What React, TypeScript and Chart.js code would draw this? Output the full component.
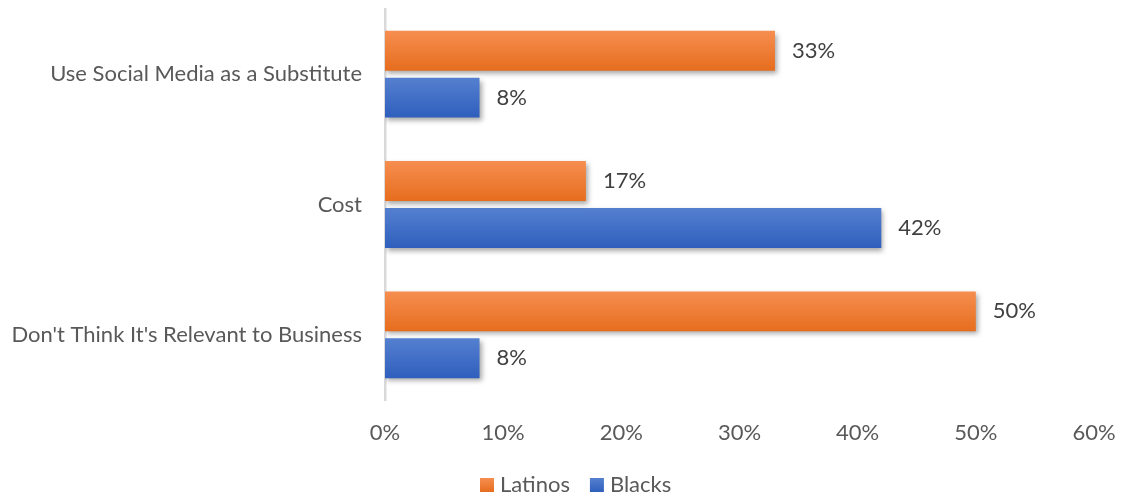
import { useEffect, useRef } from 'react';
import { Chart, registerables } from 'chart.js';

Chart.register(...registerables);

const categories = ['Use Social Media as a Substitute', 'Cost', "Don't Think It's Relevant to Business"];
const latinos = [33, 17, 50];
const blacks = [8, 42, 8];

const FONT = 'Lato, "Open Sans", sans-serif';
const SIZE = 22;

const gradients: Record<string, [string, string]> = {
  Latinos: ['#f68e50', '#e66d1e'],
  Blacks: ['#5580d0', '#2f5fbd'],
};

// Excel-style vertical gradient on each bar, soft drop shadow, value labels and legend
const barLook = {
  id: 'barLook',
  beforeDatasetDraw(chart: any, args: any) {
    const { ctx } = chart;
    const colors = gradients[chart.data.datasets[args.index].label];
    args.meta.data.forEach((el: any) => {
      const top = el.y - el.height / 2;
      const g = ctx.createLinearGradient(0, top, 0, top + el.height);
      g.addColorStop(0, colors[0]);
      g.addColorStop(1, colors[1]);
      el.options.backgroundColor = g;
    });
    ctx.save();
    ctx.shadowColor = 'rgba(0,0,0,0.35)';
    ctx.shadowBlur = 5;
    ctx.shadowOffsetX = 2;
    ctx.shadowOffsetY = 3;
  },
  afterDatasetDraw(chart: any) {
    chart.ctx.restore();
  },
  afterDatasetsDraw(chart: any) {
    const { ctx } = chart;
    ctx.save();
    ctx.font = `${SIZE}px ${FONT}`;
    ctx.fillStyle = '#404040';
    ctx.textAlign = 'left';
    ctx.textBaseline = 'middle';
    chart.data.datasets.forEach((ds: any, i: number) => {
      chart.getDatasetMeta(i).data.forEach((el: any, j: number) => {
        ctx.fillText(`${ds.data[j]}%`, el.x + 17, el.y);
      });
    });
    ctx.restore();
  },
  afterDraw(chart: any) {
    const { ctx } = chart;
    ctx.save();
    ctx.font = `${SIZE}px ${FONT}`;
    ctx.textAlign = 'left';
    ctx.textBaseline = 'middle';
    const cy = 485;
    let x = 480;
    chart.data.datasets.forEach((ds: any) => {
      const [c0, c1] = gradients[ds.label];
      const g = ctx.createLinearGradient(0, cy - 7, 0, cy + 7);
      g.addColorStop(0, c0);
      g.addColorStop(1, c1);
      ctx.fillStyle = g;
      ctx.fillRect(x, cy - 7, 14, 14);
      ctx.fillStyle = '#595959';
      ctx.fillText(ds.label, x + 20, cy);
      x += 20 + ctx.measureText(ds.label).width + 20;
    });
    ctx.restore();
  },
};

export default function App() {
  const canvasRef = useRef<HTMLCanvasElement>(null);
  const chartRef = useRef<Chart | null>(null);

  useEffect(() => {
    document.body.style.margin = '0';
    if (!canvasRef.current) return;
    chartRef.current?.destroy();

    chartRef.current = new Chart(canvasRef.current, {
      type: 'bar',
      data: {
        labels: categories,
        datasets: [
          { label: 'Latinos', data: latinos, backgroundColor: () => '#ed7d31', barPercentage: 0.85, categoryPercentage: 0.72 },
          { label: 'Blacks', data: blacks, backgroundColor: () => '#4472c4', barPercentage: 0.85, categoryPercentage: 0.72 },
        ],
      },
      options: {
        indexAxis: 'y',
        animation: false,
        responsive: true,
        maintainAspectRatio: false,
        layout: { padding: { top: 9, right: 30, left: 0, bottom: 47 } },
        plugins: {
          legend: { display: false },
          tooltip: { enabled: false },
        },
        scales: {
          x: {
            min: 0,
            max: 60,
            grid: { display: false },
            border: { display: false },
            ticks: {
              stepSize: 10,
              padding: 12,
              color: '#595959',
              font: { family: FONT, size: SIZE },
              callback: (v: any) => `${v}%`,
            },
            afterFit: (s: any) => { s.height = 50; s.paddingLeft = 0; s.paddingRight = 0; },
          },
          y: {
            grid: { display: false },
            border: { display: true, color: '#d9d9d9', width: 2.5 },
            ticks: {
              padding: 15,
              color: '#595959',
              font: { family: FONT, size: SIZE },
            },
            afterFit: (s: any) => { s.width = 385; s.paddingTop = 0; s.paddingBottom = 0; },
          },
        },
      },
      plugins: [barLook],
    });

    return () => { chartRef.current?.destroy(); };
  }, []);

  return (
    <div style={{ position: 'relative', width: 1124, height: 497 }}>
      <canvas ref={canvasRef} />
    </div>
  );
}
